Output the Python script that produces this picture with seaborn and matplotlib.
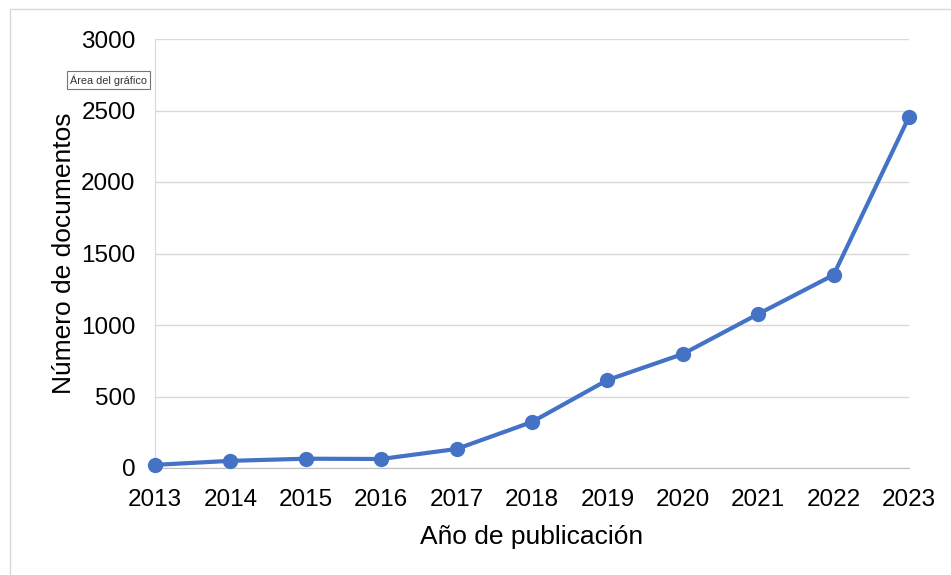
import pandas as pd
import matplotlib.pyplot as plt
import seaborn as sns
from matplotlib.patches import Rectangle

years = [2013, 2014, 2015, 2016, 2017, 2018, 2019, 2020, 2021, 2022, 2023]
documentos = [22, 50, 65, 63, 133, 322, 615, 797, 1077, 1350, 2455]

df = pd.DataFrame({'year': years, 'docs': documentos})

sns.set_style('white')
plt.rcParams['font.family'] = ['Liberation Sans', 'DejaVu Sans']

fig = plt.figure(figsize=(9.51, 5.75), dpi=100)
ax = fig.add_axes([155 / 951, 1 - 468 / 575, (909 - 155) / 951, (468 - 39) / 575])

# Outer chart frame
fig.patches.append(Rectangle((10 / 951, -0.1), 1.1, 1 - 9 / 575 + 0.1, transform=fig.transFigure,
                             fill=False, edgecolor='#d9d9d9', linewidth=1))

sns.lineplot(data=df, x='year', y='docs', ax=ax, color='#4472C4', linewidth=3,
             marker='o', markersize=11, markeredgewidth=0, clip_on=False, zorder=3)

ax.set_xlim(2013, 2023)
ax.set_ylim(0, 3000)
ax.set_xticks(years)
ax.set_yticks(range(0, 3001, 500))
ax.yaxis.grid(True, color='#d9d9d9', linewidth=1)
ax.set_axisbelow(True)

for s in ['top', 'right']:
    ax.spines[s].set_visible(False)
ax.spines['left'].set_color('#d9d9d9')
ax.spines['bottom'].set_color('#bfbfbf')
ax.tick_params(axis='both', length=0, labelsize=17.5, colors='black')
ax.tick_params(axis='x', pad=15)
ax.tick_params(axis='y', pad=14)

ax.set_xlabel('Año de publicación', fontsize=19, labelpad=10, color='black')
ax.set_ylabel('Número de documentos', fontsize=19, labelpad=4, color='black')

# Excel tooltip
fig.text(70 / 951, 1 - 80 / 575, 'Área del gráfico', fontsize=7.8, va='center', ha='left',
         color='#333333',
         bbox=dict(boxstyle='square,pad=0.3', facecolor='white', edgecolor='#767676', linewidth=0.8))

fig.savefig('out.png', dpi=100)
